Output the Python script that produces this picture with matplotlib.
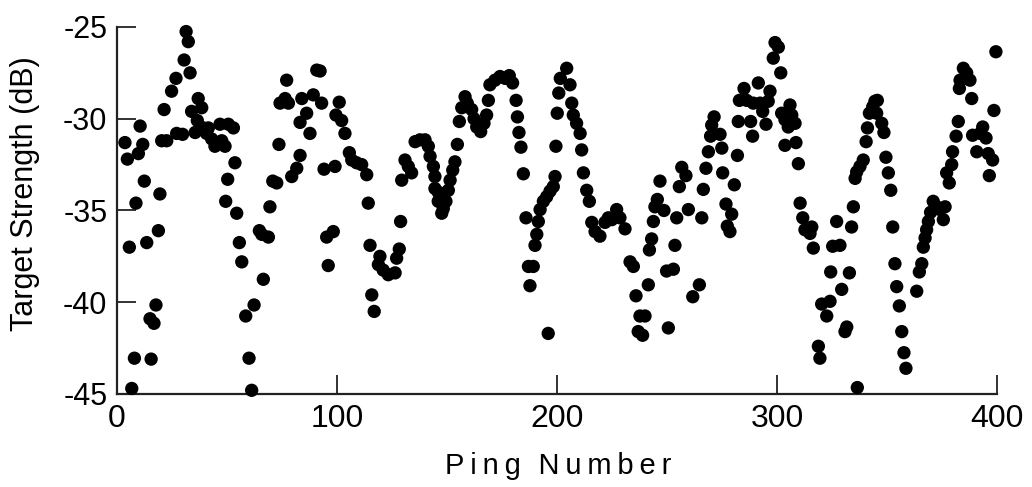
import matplotlib
matplotlib.use("Agg")
import matplotlib.pyplot as plt

plt.rcParams['font.family'] = ['Liberation Sans', 'DejaVu Sans']
plt.rcParams['axes.unicode_minus'] = False

# ping number / target strength (dB)
ping = [
    3.6, 4.7, 10.5, 11.7, 9.7, 12.4, 8.6, 5.6, 13.5, 18.8, 19.5, 17.7, 15.0, 16.8, 7.9, 15.5, 6.7,
    21.4, 20.3, 22.6, 24.8, 26.8, 27.1, 29.8, 30.5, 31.4, 32.4, 33.2, 33.9, 35.5, 36.9, 38.5, 36.5,
    39.2, 41.5, 40.7, 43.0, 44.5, 46.8, 47.6, 49.1, 50.6, 52.9, 53.6, 50.3, 49.4, 54.4, 55.6, 56.7,
    58.5, 62.3, 60.0, 61.2, 64.7, 65.8, 68.8, 66.5, 69.5, 70.8, 72.6, 73.6, 74.1, 76.4, 77.9, 77.1,
    79.4, 81.7, 83.2, 84.0, 86.2, 83.2, 87.7, 89.2, 90.8, 92.3, 93.0, 94.1, 99.1, 99.5, 95.3, 98.3,
    96.0,
    101.0, 102.1, 103.6, 105.6, 106.7, 108.9, 111.2, 113.5, 114.2, 115.0, 119.5, 118.8, 121.0, 123.3,
    126.4, 127.1, 128.3, 128.9, 115.8, 116.9, 129.4, 130.9, 133.9, 132.4, 135.5, 137.7, 140.0, 141.5,
    142.3, 143.8, 144.5, 144.5, 146.0, 146.0, 147.6, 148.3, 149.5, 150.6, 151.4, 152.6, 153.6, 154.7,
    155.6, 156.7, 158.2, 159.2, 161.2, 162.3, 163.5, 165.3, 166.8, 168.0, 168.8, 169.5, 171.8, 174.1,
    176.4, 178.3, 179.8, 181.4, 182.0, 182.7, 183.6, 184.7, 185.9, 187.0, 189.2, 187.7, 190.0, 190.8,
    191.5, 192.3, 193.8, 195.3, 196.8, 198.3, 196.0, 199.1, 199.5, 200.1, 200.8, 201.5,
    204.4, 205.9, 206.7, 207.4, 208.9, 210.5, 211.2, 212.0, 213.5, 214.7, 215.8, 217.3, 219.5, 221.8,
    223.3, 224.9, 227.1, 228.6, 230.9, 233.2, 234.7, 235.9, 236.9, 238.9, 237.7, 240.0, 241.5, 242.0,
    243.0, 243.8, 244.5, 245.6, 246.8, 248.6, 249.8, 250.6, 252.9, 253.6, 254.4, 255.6, 256.7, 258.6,
    259.7, 261.7, 264.7, 265.8, 266.5, 267.7, 268.8, 269.8, 270.3, 271.4, 274.1, 274.9, 275.3, 276.8,
    277.4, 278.6, 279.4, 280.6, 282.0, 282.4, 282.9, 285.0, 286.2, 288.0, 288.9, 289.2, 291.5, 292.3,
    293.5, 295.0, 296.8, 296.0,
    298.3, 299.1, 300.6, 301.7, 302.1, 303.6, 305.9, 306.7, 308.2, 305.1, 303.6, 308.6, 309.7, 310.5,
    311.7, 312.7, 315.0, 315.8, 316.5, 318.8, 319.5, 320.3, 322.6, 324.1, 324.4, 325.3, 327.1, 328.6,
    329.4, 330.9, 331.7, 332.9, 333.9, 334.7, 335.5, 336.2, 337.7, 339.2, 336.5, 340.5, 341.1, 342.0,
    343.5, 344.5, 345.6, 345.3, 347.6, 348.6, 349.5, 350.6, 351.7, 352.6, 353.6, 354.4, 355.6, 356.7,
    357.7, 358.6, 363.5, 364.7, 365.8, 366.5, 367.3, 368.0, 368.8, 369.8, 371.0, 372.6, 374.1, 375.6,
    376.4, 377.1, 378.3, 379.4, 379.8, 381.4, 382.4, 382.9, 383.2, 384.7, 386.2, 387.7, 388.5, 388.9,
    390.8, 392.3, 393.5, 395.0, 396.0, 398.0, 396.5, 398.6, 399.5,
]
ts = [
    -31.3, -32.2, -30.4, -31.4, -31.9, -33.4, -34.6, -37.0, -36.75, -36.1, -34.1, -40.15, -40.9, -41.15, -43.05, -43.1, -44.7,
    -29.5, -31.2, -31.2, -28.5, -27.8, -30.8, -30.85, -26.8, -25.25, -25.8, -27.5, -29.6, -30.75, -28.9, -29.4, -30.1,
    -30.5, -30.5, -30.8, -31.1, -31.5, -30.3, -31.2, -31.5, -30.3, -30.5, -32.4, -33.3, -34.5, -35.15, -36.75, -37.8,
    -40.75, -40.15, -43.05, -44.8, -36.1, -36.3, -36.45, -38.75, -34.8, -33.4, -33.5, -31.4, -29.15, -28.9, -29.15, -27.9,
    -33.15, -32.7, -32.0, -28.9, -29.7, -30.2, -30.8, -28.7, -27.35, -27.4, -29.15, -32.75, -32.6, -29.8, -36.45, -36.15,
    -38.0,
    -29.1, -30.1, -30.8, -31.85, -32.25, -32.4, -32.5, -33.05, -34.6, -36.9, -37.5, -37.95, -38.25, -38.5,
    -38.4, -37.6, -37.1, -35.6, -39.6, -40.5, -33.35, -32.25, -32.95, -32.6, -31.25, -31.15, -31.15, -31.5,
    -32.05, -32.6, -33.15, -33.8, -34.0, -34.5, -35.15, -34.9, -34.5, -33.9, -33.35, -32.8, -32.35, -31.4,
    -30.15, -29.4, -28.8, -29.15, -29.5, -30.0, -30.45, -30.7, -30.25, -29.8, -29.0, -28.15, -27.9, -27.7,
    -27.8, -27.65, -28.05, -29.0, -29.9, -30.75, -31.55, -33.0, -35.4, -38.05, -38.05, -39.1, -36.9, -36.3,
    -35.6, -34.95, -34.5, -34.25, -33.95, -33.7, -41.7, -33.15, -31.5, -29.7, -28.6, -27.8,
    -27.25, -28.15, -29.15, -29.8, -30.25, -30.8, -31.7, -32.95, -33.9, -34.5, -35.65, -36.15, -36.4, -35.65,
    -35.4, -35.5, -34.95, -35.4, -36.0, -37.8, -38.05, -39.65, -41.6, -41.8, -40.75, -40.75, -39.05, -37.15,
    -36.55, -35.6, -34.8, -34.4, -33.4, -35.0, -38.3, -41.4, -38.2, -36.9, -35.4, -33.7, -32.65, -33.1,
    -34.95, -39.7, -39.05, -35.4, -33.85, -32.7, -31.8, -30.95, -30.35, -29.9, -30.85, -31.6, -32.95, -34.65,
    -35.85, -36.15, -35.2, -33.6, -32.0, -30.15, -29.0, -28.35, -29.0, -30.15, -30.95, -29.15, -28.05, -29.15,
    -29.6, -30.3, -28.5, -29.05,
    -26.7, -25.85, -26.1, -27.5, -29.7, -30.05, -29.25, -29.8, -30.25, -30.45, -31.45, -31.3, -32.45, -34.6,
    -35.4, -36.05, -36.25, -35.9, -37.05, -42.4, -43.05, -40.1, -40.75, -39.95, -38.35, -36.95, -35.6, -36.9,
    -39.3, -41.6, -41.35, -38.4, -35.9, -34.8, -33.25, -32.9, -32.6, -32.25, -44.65, -31.25, -30.5, -29.7,
    -29.35, -29.05, -29.0, -29.7, -30.25, -30.75, -32.1, -32.95, -33.9, -35.9, -37.9, -39.15, -40.2, -41.6,
    -42.75, -43.6, -39.4, -38.35, -37.9, -37.0, -36.5, -36.05, -35.6, -35.1, -34.5, -34.8, -34.95, -35.5,
    -34.8, -32.95, -33.5, -32.5, -31.8, -30.95, -30.15, -28.35, -27.9, -27.25, -27.5, -27.9, -28.9, -30.9,
    -31.8, -30.8, -30.45, -31.05, -31.9, -32.25, -33.1, -29.55, -26.35,
]

xticks = [0, 100, 200, 300, 400]
yticks = [-45, -40, -35, -30, -25]

fig = plt.figure(figsize=(10.32, 4.87), dpi=100)
ax = fig.add_axes([0.1134, 0.191, 0.8527, 0.7536])

ax.scatter(ping, ts, s=92, color='black', edgecolors='none', clip_on=False, zorder=3)

ax.set_xlim(0, 400)
ax.set_ylim(-45, -25)
ax.set_xticks(xticks)
ax.set_yticks(yticks)

for side in ['top', 'right']:
    ax.spines[side].set_visible(False)
for side in ['left', 'bottom']:
    ax.spines[side].set_linewidth(1.6)
    ax.spines[side].set_color('#222222')

ax.tick_params(direction='in', length=14, width=1.3, color='#222222')
ax.tick_params(axis='x', labelsize=23, pad=7)
ax.tick_params(axis='y', labelsize=22, pad=7)

# the original label is letter-spaced
thin = '\u2009'
xlabel = thin.join('Ping') + thin * 3 + thin.join('Number')
ax.set_xlabel(xlabel, fontsize=21)
ax.xaxis.set_label_coords(0.501, -0.158)
ax.set_ylabel('Target Strength (dB)', fontsize=22)
ax.yaxis.set_label_coords(-0.088, 0.545)

plt.savefig('out.png', dpi=100)
